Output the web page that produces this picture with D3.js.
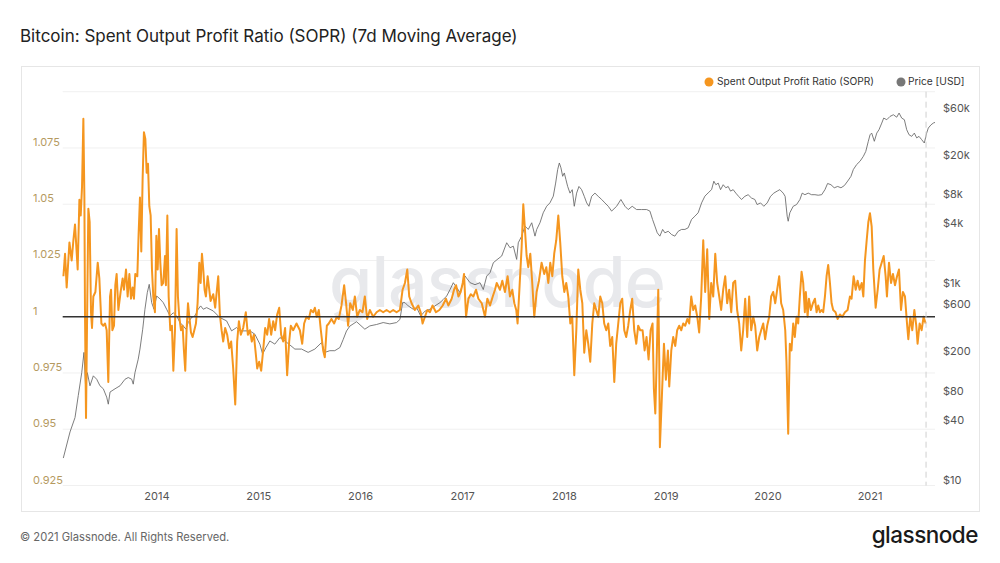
<!DOCTYPE html>
<html><head><meta charset="utf-8">
<script src="https://cdn.jsdelivr.net/npm/d3@7"></script>
<style>body{margin:0;background:#fff;} svg{display:block;font-family:Inter,"Noto Sans",sans-serif;}</style>
</head><body><svg id="chart" width="1000" height="563"></svg>
<script>
// ---- data (dates as decimal years) ----
const soprDates = [2013.081,2013.097,2013.113,2013.140,2013.162,2013.179,2013.195,2013.212,2013.221,2013.238,2013.251,2013.264,2013.277,2013.287,2013.293,2013.303,2013.316,2013.326,2013.339,2013.352,2013.362,2013.375,2013.395,2013.418,2013.434,2013.454,2013.473,2013.490,2013.506,2013.522,2013.539,2013.549,2013.562,2013.578,2013.591,2013.604,2013.621,2013.643,2013.663,2013.676,2013.696,2013.712,2013.729,2013.745,2013.761,2013.774,2013.787,2013.807,2013.820,2013.833,2013.846,2013.859,2013.872,2013.886,2013.899,2013.912,2013.925,2013.938,2013.951,2013.964,2013.980,2013.994,2014.007,2014.020,2014.033,2014.046,2014.062,2014.079,2014.088,2014.102,2014.115,2014.131,2014.147,2014.161,2014.177,2014.193,2014.206,2014.219,2014.236,2014.252,2014.265,2014.278,2014.291,2014.305,2014.318,2014.334,2014.350,2014.367,2014.383,2014.399,2014.416,2014.429,2014.442,2014.455,2014.468,2014.481,2014.498,2014.527,2014.553,2014.572,2014.602,2014.618,2014.635,2014.651,2014.670,2014.690,2014.710,2014.729,2014.749,2014.769,2014.788,2014.805,2014.824,2014.847,2014.873,2014.893,2014.913,2014.932,2014.952,2014.972,2014.985,2015.004,2015.024,2015.043,2015.063,2015.083,2015.102,2015.122,2015.142,2015.161,2015.181,2015.201,2015.220,2015.240,2015.259,2015.279,2015.299,2015.315,2015.338,2015.371,2015.404,2015.427,2015.446,2015.469,2015.492,2015.512,2015.535,2015.551,2015.570,2015.590,2015.610,2015.633,2015.649,2015.669,2015.688,2015.714,2015.741,2015.767,2015.786,2015.813,2015.839,2015.858,2015.878,2015.898,2015.924,2015.944,2015.967,2015.993,2016.019,2016.042,2016.065,2016.091,2016.124,2016.157,2016.189,2016.222,2016.255,2016.288,2016.320,2016.353,2016.386,2016.412,2016.435,2016.458,2016.477,2016.500,2016.533,2016.566,2016.589,2016.608,2016.631,2016.654,2016.680,2016.706,2016.739,2016.772,2016.805,2016.837,2016.860,2016.893,2016.916,2016.936,2016.959,2016.981,2017.001,2017.014,2017.034,2017.057,2017.080,2017.106,2017.132,2017.155,2017.188,2017.220,2017.243,2017.269,2017.296,2017.318,2017.335,2017.367,2017.390,2017.416,2017.442,2017.465,2017.488,2017.508,2017.527,2017.540,2017.560,2017.580,2017.596,2017.612,2017.629,2017.645,2017.665,2017.684,2017.704,2017.727,2017.750,2017.776,2017.802,2017.822,2017.842,2017.861,2017.881,2017.900,2017.920,2017.940,2017.959,2017.979,2017.999,2018.018,2018.038,2018.058,2018.077,2018.097,2018.117,2018.136,2018.156,2018.176,2018.195,2018.215,2018.234,2018.254,2018.274,2018.293,2018.313,2018.333,2018.352,2018.372,2018.391,2018.411,2018.431,2018.450,2018.470,2018.490,2018.509,2018.529,2018.549,2018.568,2018.588,2018.607,2018.627,2018.647,2018.666,2018.686,2018.706,2018.725,2018.745,2018.768,2018.788,2018.807,2018.827,2018.847,2018.866,2018.879,2018.893,2018.906,2018.922,2018.932,2018.938,2018.958,2018.978,2018.997,2019.017,2019.030,2019.050,2019.069,2019.089,2019.108,2019.128,2019.148,2019.167,2019.187,2019.207,2019.226,2019.246,2019.266,2019.285,2019.305,2019.324,2019.344,2019.364,2019.383,2019.403,2019.423,2019.442,2019.462,2019.482,2019.501,2019.521,2019.540,2019.560,2019.580,2019.599,2019.619,2019.639,2019.658,2019.678,2019.697,2019.717,2019.737,2019.756,2019.776,2019.796,2019.815,2019.835,2019.855,2019.874,2019.894,2019.914,2019.933,2019.953,2019.972,2019.992,2020.012,2020.031,2020.051,2020.071,2020.090,2020.110,2020.129,2020.149,2020.169,2020.181,2020.198,2020.214,2020.230,2020.247,2020.263,2020.280,2020.296,2020.312,2020.329,2020.345,2020.361,2020.371,2020.388,2020.401,2020.420,2020.440,2020.460,2020.476,2020.492,2020.509,2020.525,2020.541,2020.558,2020.574,2020.590,2020.607,2020.623,2020.639,2020.662,2020.682,2020.705,2020.728,2020.754,2020.780,2020.803,2020.819,2020.839,2020.859,2020.878,2020.898,2020.918,2020.934,2020.950,2020.967,2020.983,2020.999,2021.016,2021.032,2021.055,2021.075,2021.094,2021.114,2021.134,2021.153,2021.166,2021.186,2021.206,2021.225,2021.245,2021.265,2021.284,2021.304,2021.323,2021.343,2021.363,2021.376,2021.395,2021.415,2021.435,2021.454,2021.467,2021.487,2021.507,2021.526,2021.546];
const soprValues = [1.018,1.028,1.013,1.033,1.025,1.034,1.041,1.028,1.021,1.052,1.045,1.058,1.088,1.053,1.002,0.955,1.009,1.048,1.042,1.002,0.995,1.009,1.011,1.024,1.017,0.997,0.996,0.997,0.994,0.971,1.009,1.012,0.994,0.996,1.014,1.019,1.003,1.011,1.017,1.012,1.021,1.009,1.019,1.008,1.013,1.008,1.019,1.018,1.037,1.053,1.029,1.061,1.082,1.079,1.064,1.068,1.049,1.045,1.021,1.009,1.002,1.036,1.021,1.039,1.024,1.014,1.015,1.027,1.014,1.045,1.009,0.994,0.996,0.976,0.994,1.039,1.009,1.000,0.994,0.996,0.985,0.976,0.994,1.006,1.000,0.993,0.991,0.994,0.997,1.006,1.024,1.015,1.028,1.021,1.012,1.009,1.018,1.007,1.010,1.004,1.018,1.001,0.994,0.989,0.995,0.992,0.986,0.989,0.977,0.961,0.989,0.998,0.992,0.995,1.002,0.992,0.994,0.989,0.992,0.983,0.977,0.980,0.976,0.985,0.995,0.992,0.999,0.992,0.998,0.994,1.001,1.004,0.992,0.989,0.995,0.974,0.989,0.996,0.994,0.997,0.994,0.988,0.997,1.000,0.999,1.003,1.002,1.004,1.000,1.003,0.994,0.985,0.982,0.996,0.997,0.999,0.997,1.000,0.999,1.005,1.014,1.006,0.996,1.006,1.003,1.009,1.000,1.003,1.002,1.009,0.999,1.003,1.000,1.002,1.003,1.002,1.003,1.002,1.003,1.002,1.003,1.012,1.015,1.021,1.009,1.006,1.003,1.005,1.002,0.997,1.000,1.003,1.002,1.005,1.002,1.003,1.005,1.008,1.005,1.008,1.012,1.014,1.009,1.011,1.015,1.019,1.000,1.008,1.010,1.009,1.012,1.008,1.006,1.000,1.008,1.005,1.009,1.012,1.015,1.012,1.016,1.011,1.018,1.009,1.012,1.006,1.003,0.997,1.014,1.031,1.050,1.039,1.027,1.022,1.028,1.015,1.000,1.011,1.016,1.024,1.019,1.022,1.015,1.024,1.018,1.028,1.034,1.045,1.033,1.018,1.011,1.015,1.009,0.997,1.000,0.974,0.994,1.021,1.012,1.006,0.984,0.994,0.988,0.980,0.997,1.006,1.003,1.000,1.009,1.006,0.997,0.994,0.997,0.987,0.991,0.971,0.988,0.997,1.006,1.008,0.994,0.991,0.996,1.003,1.008,0.994,0.988,0.996,0.994,0.994,0.985,0.991,0.981,0.994,0.997,0.968,0.957,0.980,1.012,0.980,0.942,0.965,0.988,0.972,0.985,0.969,0.985,0.991,0.987,0.994,0.996,0.994,0.997,0.996,0.999,0.997,1.009,1.003,1.005,1.000,0.993,1.009,1.034,1.011,1.030,0.999,1.015,1.009,1.028,1.015,1.009,1.003,1.012,1.018,1.006,1.012,1.002,1.015,1.016,1.003,0.997,0.985,0.994,1.008,0.991,1.009,0.994,1.000,0.996,0.985,0.991,0.994,0.997,0.990,0.996,1.000,1.009,1.011,1.006,1.012,1.018,1.006,1.003,0.994,0.980,0.948,0.988,0.985,0.997,0.991,1.000,0.997,1.009,1.020,1.015,1.002,1.011,1.000,1.008,1.003,1.006,1.008,1.002,1.005,1.002,1.003,1.002,1.009,1.018,1.023,1.015,1.006,1.003,1.002,0.999,1.001,1.000,1.002,1.003,1.009,1.008,1.018,1.012,1.016,1.012,1.015,1.009,1.025,1.034,1.042,1.046,1.040,1.021,1.004,1.012,1.021,1.024,1.027,1.018,1.009,1.024,1.015,1.019,1.014,1.018,1.021,1.003,1.011,1.009,0.997,0.990,1.000,0.994,1.003,0.996,0.988,0.997,0.994,1.000,0.997];
const priceDates = [2013.080,2013.146,2013.195,2013.227,2013.261,2013.283,2013.300,2013.316,2013.342,2013.375,2013.408,2013.440,2013.473,2013.506,2013.522,2013.539,2013.588,2013.637,2013.686,2013.718,2013.752,2013.767,2013.784,2013.816,2013.833,2013.860,2013.882,2013.905,2013.924,2013.948,2013.971,2013.997,2014.029,2014.062,2014.095,2014.128,2014.160,2014.193,2014.226,2014.258,2014.285,2014.307,2014.341,2014.373,2014.405,2014.429,2014.455,2014.488,2014.553,2014.618,2014.684,2014.733,2014.782,2014.815,2014.864,2014.913,2014.962,2015.011,2015.038,2015.070,2015.109,2015.158,2015.208,2015.257,2015.296,2015.355,2015.421,2015.485,2015.551,2015.617,2015.649,2015.698,2015.747,2015.797,2015.829,2015.862,2015.895,2015.961,2016.042,2016.091,2016.157,2016.222,2016.287,2016.353,2016.386,2016.412,2016.435,2016.467,2016.516,2016.550,2016.589,2016.631,2016.680,2016.729,2016.778,2016.811,2016.844,2016.877,2016.909,2016.942,2016.975,2017.024,2017.073,2017.122,2017.171,2017.203,2017.237,2017.269,2017.302,2017.338,2017.384,2017.433,2017.466,2017.498,2017.531,2017.547,2017.580,2017.613,2017.645,2017.679,2017.711,2017.728,2017.760,2017.792,2017.826,2017.858,2017.891,2017.914,2017.934,2017.950,2017.966,2017.983,2017.999,2018.015,2018.032,2018.055,2018.077,2018.097,2018.120,2018.143,2018.169,2018.195,2018.219,2018.241,2018.268,2018.300,2018.332,2018.366,2018.398,2018.431,2018.464,2018.513,2018.555,2018.595,2018.627,2018.666,2018.709,2018.758,2018.808,2018.840,2018.866,2018.889,2018.912,2018.938,2018.965,2018.987,2019.020,2019.053,2019.085,2019.118,2019.151,2019.184,2019.216,2019.249,2019.282,2019.314,2019.348,2019.380,2019.412,2019.446,2019.468,2019.488,2019.511,2019.534,2019.560,2019.586,2019.609,2019.632,2019.658,2019.684,2019.711,2019.740,2019.773,2019.805,2019.838,2019.871,2019.893,2019.927,2019.959,2019.992,2020.025,2020.057,2020.090,2020.116,2020.149,2020.168,2020.188,2020.198,2020.214,2020.247,2020.280,2020.313,2020.335,2020.362,2020.394,2020.427,2020.460,2020.492,2020.526,2020.558,2020.584,2020.617,2020.649,2020.683,2020.715,2020.748,2020.781,2020.813,2020.836,2020.869,2020.902,2020.934,2020.958,2020.983,2021.000,2021.016,2021.042,2021.066,2021.088,2021.115,2021.134,2021.164,2021.196,2021.229,2021.262,2021.285,2021.311,2021.337,2021.360,2021.383,2021.409,2021.435,2021.458,2021.481,2021.507,2021.533,2021.556,2021.572,2021.599,2021.621,2021.638];
const priceValues = [19,35,49,82,140,225,96,140,103,130,120,103,96,79,67,89,96,103,120,125,120,107,140,192,243,387,617,909,1105,720,617,841,787,720,617,528,568,528,452,418,387,452,511,528,617,667,617,641,593,508,470,372,402,372,372,372,344,273,216,251,294,273,318,294,273,243,243,225,243,283,225,234,234,252,303,371,416,461,387,418,432,452,438,452,486,720,720,667,617,641,528,590,617,667,720,776,841,978,1148,1023,909,1342,1148,1096,1148,978,1342,1450,1832,1967,2142,2922,2596,2698,1978,2922,3410,4316,3990,4665,3410,3990,4665,5890,6868,7430,8689,11802,16186,18883,16860,13825,14949,12814,10903,9329,10116,6856,9329,10903,10116,8655,7418,6856,8655,9329,8655,8037,7418,6856,6126,6856,8037,6856,6351,6856,6351,6351,6351,6126,5036,4316,3687,3410,3990,3687,3822,3541,3410,3822,3990,3990,4148,5036,5440,5890,7430,8689,9374,10138,12330,11352,11802,10116,11352,10566,10903,9779,10116,9329,8655,8037,8655,8992,8318,8037,7137,7418,6856,7418,8655,9329,9779,10116,9329,8655,5440,4833,5890,6856,7137,8037,9329,8992,9329,8992,8992,8880,8992,10116,11690,11352,10566,10903,10566,11128,12364,13825,16186,18209,19670,22030,24728,31360,36530,37991,31360,37991,41138,47995,53952,51929,56088,58336,55076,60696,53952,51929,41138,36530,35181,37991,33945,35181,32596,30123,37991,42712,46084,47995,48782];
const xStart = 2013.074, xEnd = 2021.638, markerDate = 2021.550;
const xTickYears = [2014,2015,2016,2017,2018,2019,2020,2021];
const soprTicks = [0.925,0.95,0.975,1,1.025,1.05,1.075];
const soprDomain = [0.925,1.1];
const priceTicks = [10,40,80,200,600,1000,4000,8000,20000,60000];
const priceTickLabels = ["$10","$40","$80","$200","$600","$1k","$4k","$8k","$20k","$60k"];
const priceDomain = [10,100000];

// ---- helpers ----
function dy(t){const y=Math.floor(t);const s=Date.UTC(y,0,1),e=Date.UTC(y+1,0,1);return new Date(s+(t-y)*(e-s));}
const L=62.7,R=935,T=91.7,B=485.5;
const svg=d3.select("#chart");
const x=d3.scaleUtc().domain([dy(xStart),dy(xEnd)]).range([L,R]);
const yS=d3.scaleLinear().domain(soprDomain).range([B,T]);
const yP=d3.scaleLog().domain(priceDomain).range([B,T]);

// title
svg.append("text").attr("x",20).attr("y",37).attr("dominant-baseline","middle")
  .attr("font-size",17).attr("fill","#222").text("Bitcoin: Spent Output Profit Ratio (SOPR) (7d Moving Average)");
// card
svg.append("rect").attr("x",21.5).attr("y",66.5).attr("width",958).attr("height",445)
  .attr("fill","none").attr("stroke","#e6e6e6");
// gridlines
svg.append("g").selectAll("line").data(soprTicks.concat([soprDomain[1]])).join("line")
  .attr("x1",L).attr("x2",R).attr("y1",d=>yS(d)).attr("y2",d=>yS(d))
  .attr("stroke","#f0f0f0").attr("stroke-width",1);
// watermark
svg.append("text").attr("x",497).attr("y",288).attr("text-anchor","middle").attr("dominant-baseline","middle")
  .attr("font-size",70).attr("font-weight",500).attr("fill","#e8e9ec").attr("letter-spacing",-1).text("glassnode");
// left axis labels
svg.append("g").selectAll("text").data(soprTicks).join("text")
  .attr("x",33).attr("y",d=>yS(d)-5).attr("dominant-baseline","middle")
  .attr("font-size",11).attr("fill","#b59a5f").text(d=>d3.format("")(d));
// right axis labels
svg.append("g").selectAll("text").data(priceTicks).join("text")
  .attr("x",943).attr("y",d=>yP(d)-5).attr("dominant-baseline","middle")
  .attr("font-size",11).attr("fill","#555").text((d,i)=>priceTickLabels[i]);
// x axis labels
svg.append("g").selectAll("text").data(xTickYears).join("text")
  .attr("x",d=>x(new Date(Date.UTC(d,0,1)))).attr("y",497).attr("text-anchor","middle").attr("dominant-baseline","middle")
  .attr("font-size",11).attr("fill","#555").text(d=>String(d));
// price line
const priceData=priceDates.map((t,i)=>({d:dy(t),v:priceValues[i]}));
svg.append("path").datum(priceData).attr("fill","none").attr("stroke","#666").attr("stroke-width",0.85)
  .attr("d",d3.line().x(d=>x(d.d)).y(d=>yP(d.v)));
// sopr line
const soprData=soprDates.map((t,i)=>({d:dy(t),v:soprValues[i]}));
svg.append("path").datum(soprData).attr("fill","none").attr("stroke","#f5961f").attr("stroke-width",2).attr("stroke-linejoin","round")
  .attr("d",d3.line().x(d=>x(d.d)).y(d=>yS(d.v)));
// baseline at 1
svg.append("line").attr("x1",L).attr("x2",R).attr("y1",yS(1)).attr("y2",yS(1)).attr("stroke","#333").attr("stroke-width",1.5);
// dashed marker
svg.append("line").attr("x1",x(dy(markerDate))).attr("x2",x(dy(markerDate))).attr("y1",T).attr("y2",B)
  .attr("stroke","#cfcfcf").attr("stroke-dasharray","6,4").attr("stroke-width",1);
// legend
const lg=svg.append("g");
lg.append("circle").attr("cx",709).attr("cy",82).attr("r",4.5).attr("fill","#f5961f");
lg.append("text").attr("x",717).attr("y",82).attr("dominant-baseline","middle").attr("font-size",10.2).attr("fill","#333").text("Spent Output Profit Ratio (SOPR)");
lg.append("circle").attr("cx",901).attr("cy",82).attr("r",4.5).attr("fill","#777");
lg.append("text").attr("x",908).attr("y",82).attr("dominant-baseline","middle").attr("font-size",10.2).attr("fill","#333").text("Price [USD]");
// footer
svg.append("text").attr("x",20).attr("y",538).attr("dominant-baseline","middle").attr("font-size",11.2).attr("fill","#666").text("© 2021 Glassnode. All Rights Reserved.");
svg.append("text").attr("x",978).attr("y",537).attr("text-anchor","end").attr("dominant-baseline","middle").attr("font-size",22.5).attr("font-weight",500).attr("fill","#1a1a1a").attr("letter-spacing",-0.5).text("glassnode");
</script></body></html>
